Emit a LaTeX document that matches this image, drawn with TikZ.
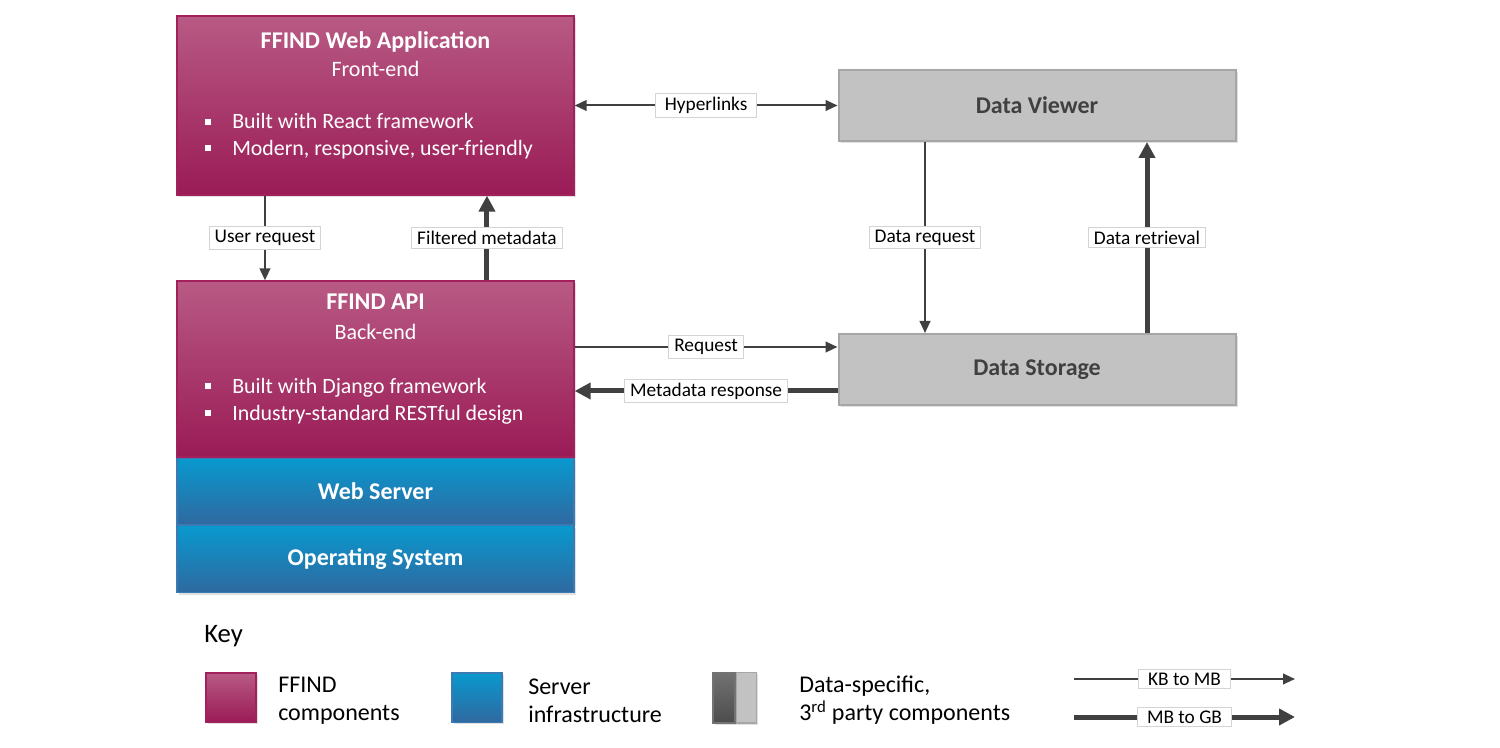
\documentclass[tikz,border=0pt]{standalone}
\usepackage{fontspec}
\setmainfont{Carlito}
\usetikzlibrary{arrows.meta,positioning,shadows}

\definecolor{ffindtop}{HTML}{B85A84}
\definecolor{ffindbot}{HTML}{9A1B56}
\definecolor{ffindedge}{HTML}{A2215C}
\definecolor{srvtop}{HTML}{0899CE}
\definecolor{srvbot}{HTML}{2F69A0}
\definecolor{srvedge}{HTML}{3C7AB4}
\definecolor{extfill}{HTML}{C2C2C2}
\definecolor{extedge}{HTML}{A6A6A6}
\definecolor{exttext}{HTML}{404040}
\definecolor{flow}{HTML}{404040}
\definecolor{lblgray}{HTML}{D4D4D4}

\newcommand{\sqbul}{\rule[0.2em]{4.5pt}{4.5pt}\hspace{15.75pt}}
\newcommand{\titlefont}{\bfseries\fontsize{18}{21}\selectfont}

\tikzset{
  shade/.style={drop shadow={shadow xshift=1.5pt,shadow yshift=-1.5pt,fill=black,opacity=0.12}},
  ffind/.style={rectangle, draw=ffindedge, line width=1pt, top color=ffindtop, bottom color=ffindbot, shade},
  server/.style={rectangle, draw=srvedge, line width=1pt, top color=srvtop, bottom color=srvbot, shade,
    text=white, font=\titlefont},
  ext/.style={rectangle, draw=extedge, line width=1.5pt, fill=extfill, shade,
    text=exttext, font=\titlefont},
  wide/.style={minimum width=297.75pt, inner sep=0pt},
  boxtext/.style={text=white, align=center, font=\fontsize{16.5}{21}\selectfont, inner sep=0pt},
  bullets/.style={text=white, align=left, font=\fontsize{16.4}{20}\selectfont, inner sep=0pt, anchor=west},
  keytext/.style={align=left, font=\fontsize{18}{21}\selectfont, inner sep=0pt, anchor=west},
  lbl/.style={fill=white, draw=lblgray, line width=0.75pt, text=black, font=\fontsize{14.5}{16}\selectfont,
    inner xsep=4pt, inner ysep=2.5pt},
  thinflow/.style={draw=flow, line width=1.5pt, -{Triangle[length=9pt,width=8pt]}},
  bigflow/.style={draw=flow, line width=3.75pt, -{Triangle[length=12pt,width=12pt]}},
}

\begin{document}
\begin{tikzpicture}[x=0.75pt,y=-0.75pt]
  \useasboundingbox (0,0) rectangle (1500,748);

  % FFIND stack
  \node[ffind, wide, minimum height=134.25pt] (webapp) at (375.5,105.5) {};
  \node[ffind, wide, minimum height=132pt] (api) at (375.5,369) {};
  \node[server, wide, minimum height=49.5pt, below=0pt of api] (websrv) {Web Server};
  \node[server, wide, minimum height=50.25pt, below=0pt of websrv] (opsys) {Operating System};

  \node[boxtext] (webapptitle) at (375.5,54) {{\titlefont FFIND Web Application}\\Front-end};
  \node[bullets] (webapplist) at (205,136.5)
    {\sqbul Built with React framework\\\sqbul Modern, responsive, user-friendly};
  \node[boxtext, font=\fontsize{16.5}{22.5}\selectfont] (apititle) at (375.5,317) {{\titlefont FFIND API}\\Back-end};
  \node[bullets] (apilist) at (205,401)
    {\sqbul Built with Django framework\\\sqbul Industry-standard RESTful design};

  % Third party
  \node[ext, wide, minimum height=53.25pt] (viewer) at (1037,105.5) {Data Viewer};
  \node[ext, wide, minimum height=53.25pt] (storage) at (1037,369.5) {Data Storage};

  % Flows
  \draw[thinflow, {Triangle[length=9pt,width=8pt]}-{Triangle[length=9pt,width=8pt]}]
    (webapp.east) -- node[lbl, inner xsep=7pt] {Hyperlinks} (viewer.west);
  \draw[thinflow] ([xshift=-82.9pt]webapp.south) -- node[lbl] {User request} ([xshift=-82.9pt]api.north);
  \draw[bigflow] ([xshift=83.6pt]api.north) -- node[lbl] {Filtered metadata} ([xshift=83.6pt]webapp.south);
  \draw[thinflow] ([xshift=-84pt]viewer.south) -- node[lbl] {Data request} ([xshift=-84pt]storage.north);
  \draw[bigflow] ([xshift=82.5pt]storage.north) -- node[lbl] {Data retrieval} ([xshift=82.5pt]viewer.south);
  \draw[thinflow] ([yshift=16.5pt]api.east) -- node[lbl] {Request} ([yshift=16.5pt]api.east -| storage.west);
  \draw[bigflow] ([yshift=-16.5pt]api.east -| storage.west) -- node[lbl] {Metadata response} ([yshift=-16.5pt]api.east);

  % Key
  \node[anchor=west, inner sep=0pt, font=\fontsize{20}{24}\selectfont] (keytitle) at (204,636) {Key};
  \node[ffind, minimum width=37.5pt, minimum height=37pt, inner sep=0pt] (keyffind) at (231,697.5) {};
  \node[keytext] (keyffindtext) at (278,700.5) {FFIND\\components};
  \node[server, minimum width=37.5pt, minimum height=37pt, inner sep=0pt] (keysrv) at (477,697.5) {};
  \node[keytext] (keysrvtext) at (528,700.5) {Server\\infrastructure};
  \node[rectangle, draw=black!55, line width=1pt, top color=black!55, bottom color=black!70, shade,
    minimum width=16.5pt, minimum height=38pt, inner sep=0pt] (keydark) at (724,697.5) {};
  \node[rectangle, draw=extedge, line width=1pt, fill=extfill, shade,
    minimum width=15pt, minimum height=38pt, inner sep=0pt, right=0pt of keydark] (keylight) {};
  \node[keytext] (keyexttext) at (799,700.5) {Data-specific,\\3\textsuperscript{rd} party components};

  \coordinate (kbstart) at (1074,679);
  \coordinate (kbend) at (1295,679);
  \coordinate (mbstart) at (1074,717);
  \coordinate (mbend) at (1295,717);
  \draw[thinflow] (kbstart) -- node[lbl, inner xsep=7pt] {KB to MB} (kbend);
  \draw[bigflow] (mbstart) -- node[lbl, inner xsep=7pt] {MB to GB} (mbend);
\end{tikzpicture}
\end{document}
